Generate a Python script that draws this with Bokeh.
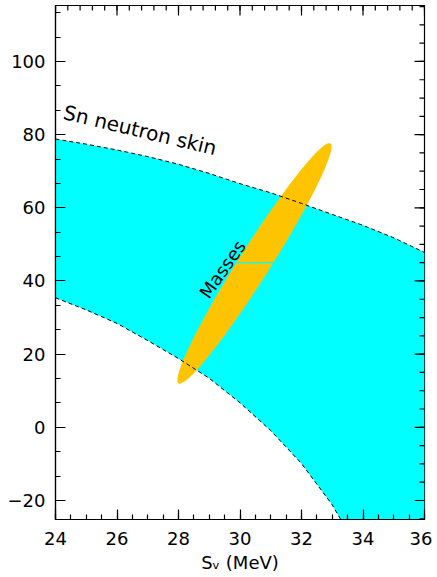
import numpy as np
from bokeh.plotting import figure
from bokeh.models import SingleIntervalTicker, Range1d
from bokeh.core.properties import value
from bokeh.embed import file_html
from bokeh.resources import INLINE

# ---- data ----
upper_x = [24, 25, 26, 27, 28, 29, 30, 31, 32, 33, 34, 35, 36]
upper_y = [78.8, 77.4, 75.8, 74.0, 71.9, 69.4, 66.6, 64.1, 61.2, 58.2, 55.2, 51.8, 47.8]
lower_x = [24, 25, 26, 27, 28, 29, 30, 31, 32, 33, 33.5]
lower_y = [35.4, 32.1, 28.4, 23.7, 18.8, 13.4, 6.7, -0.9, -9.9, -21.2, -28.5]
band_floor = -30.0

ellipse_center = (30.47, 44.8)
ellipse_tip = (32.94, 77.6)       # end of major axis
ellipse_minor = (0.43, -2.30)     # minor semi-axis vector (data units)
mark_x = [29.93, 31.12]
mark_y = [45.0, 45.0]

label_skin = "Sn neutron skin"
label_skin_pos = (26.75, 81.2)
label_masses = "Masses"
label_masses_pos = (29.43, 43.2)

x_lo, x_hi = 24, 36
y_lo, y_hi = -25.2, 115.3
x_major, x_minor_n = 2, 4
y_major, y_minor_n = 20, 3

FONT = "DejaVu Sans"
CYAN = "#00FFFF"
ORANGE = "#FFC400"
LW = 1.2

FW, FH = 369, 514
p = figure(frame_width=FW, frame_height=FH,
           x_range=Range1d(x_lo, x_hi), y_range=Range1d(y_lo, y_hi),
           output_backend="svg", toolbar_location=None,
           min_border_left=55, min_border_right=8, min_border_top=5, min_border_bottom=0)
p.grid.visible = False
p.outline_line_color = "black"
p.outline_line_width = LW
p.background_fill_color = "white"

# cyan band
band_x = upper_x + [upper_x[-1]] + lower_x[::-1]
band_y = upper_y + [band_floor] + lower_y[::-1]
p.patch(band_x, band_y, fill_color=CYAN, line_color=None)

# ellipse
t = np.linspace(0, 2 * np.pi, 240)
cx, cy = ellipse_center
ax_, ay_ = ellipse_tip[0] - cx, ellipse_tip[1] - cy
bx_, by_ = ellipse_minor
ex = cx + np.cos(t) * ax_ + np.sin(t) * bx_
ey = cy + np.cos(t) * ay_ + np.sin(t) * by_
p.patch(ex, ey, fill_color=ORANGE, line_color=None)
p.line(mark_x, mark_y, line_color=CYAN, line_width=1.2)

# dashed boundaries
p.line(upper_x, upper_y, line_color="black", line_dash="4 3", line_width=1)
p.line(lower_x, lower_y, line_color="black", line_dash="4 3", line_width=1)

p.text(x=[label_skin_pos[0]], y=[label_skin_pos[1]], text=[label_skin],
       angle=np.deg2rad(-13.5), text_align="center", text_baseline="middle",
       text_font=value(FONT), text_font_size="20px", text_color="black")
p.text(x=[label_masses_pos[0]], y=[label_masses_pos[1]], text=[label_masses],
       angle=np.deg2rad(55), text_align="center", text_baseline="middle",
       text_font=value(FONT), text_font_size="18px", text_color="black")

# axes (bottom / left), ticks pointing inward
for ax in (p.xaxis[0], p.yaxis[0]):
    ax.major_tick_in = 10
    ax.major_tick_out = 0
    ax.minor_tick_in = 5
    ax.minor_tick_out = 0
    ax.major_tick_line_color = "black"
    ax.minor_tick_line_color = "black"
    ax.major_tick_line_width = LW
    ax.minor_tick_line_width = LW
    ax.axis_line_color = "black"
    ax.axis_line_width = LW
    ax.major_label_text_font = FONT
    ax.major_label_text_font_size = "18px"
    ax.major_label_text_color = "black"

p.xaxis.ticker = SingleIntervalTicker(interval=x_major, num_minor_ticks=x_minor_n)
p.yaxis.ticker = SingleIntervalTicker(interval=y_major, num_minor_ticks=y_minor_n)
p.xaxis.major_label_standoff = 12
p.yaxis.major_label_standoff = 10
p.xaxis.axis_label = "S\u1D65 (MeV)"
p.xaxis.axis_label_text_font = FONT
p.xaxis.axis_label_text_font_size = "18px"
p.xaxis.axis_label_text_font_style = "normal"
p.xaxis.axis_label_text_color = "black"
p.xaxis.axis_label_standoff = 4

# inward ticks on top and right edges, drawn as segments
dx = (x_hi - x_lo) / FW   # data units per pixel
dy = (y_hi - y_lo) / FH
x_maj = np.arange(x_lo, x_hi + 1e-9, x_major)
x_min = np.arange(x_lo, x_hi + 1e-9, x_major / (x_minor_n + 1))
y_maj = np.arange(-20, y_hi, y_major)
y_min = np.arange(-20 - y_major, y_hi, y_major / (y_minor_n + 1))
y_min = y_min[(y_min > y_lo) & (y_min < y_hi)]

def vticks(xs, length):
    n = len(xs)
    p.segment(x0=list(xs), y0=[y_hi] * n, x1=list(xs), y1=[y_hi - length * dy] * n,
              line_color="black", line_width=LW)

def hticks(ys, length):
    n = len(ys)
    p.segment(x0=[x_hi] * n, y0=list(ys), x1=[x_hi - length * dx] * n, y1=list(ys),
              line_color="black", line_width=LW)

vticks(x_maj, 10)
vticks(x_min, 5)
hticks(y_maj, 10)
hticks(y_min, 5)

open("out.html", "w").write(file_html(p, INLINE))
